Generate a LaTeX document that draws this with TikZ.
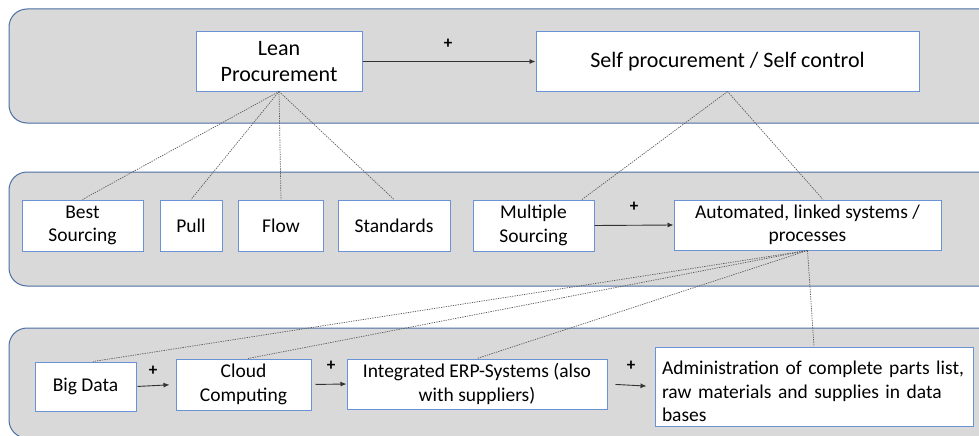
\documentclass[tikz,border=0pt]{standalone}
\usepackage{fontspec}
\setmainfont{Carlito}
\usetikzlibrary{arrows.meta}
\definecolor{bandfill}{HTML}{D9D9D9}
\definecolor{bandline}{HTML}{4D6FA3}
\definecolor{boxline}{HTML}{6A92D4}
\definecolor{linkgray}{HTML}{5A5A5A}
\begin{document}
\begin{tikzpicture}[x=1pt,y=-1pt,
  band/.style={fill=bandfill,draw=bandline,line width=1pt,rounded corners=18pt},
  box/.style={draw=boxline,fill=white,line width=1pt,inner sep=2pt,align=center,
    font=\fontsize{19.5}{23.5}\selectfont},
  bigbox/.style={box,font=\fontsize{22}{26}\selectfont},
  plus/.style={font=\fontsize{17}{17}\selectfont\bfseries,inner sep=0pt},
  flow/.style={draw=black!80,line width=0.9pt,-{Latex[length=6pt,width=5pt]}},
  link/.style={draw=linkgray,line width=0.7pt,dash pattern=on 1.3pt off 1.1pt}]
\useasboundingbox (0,0) rectangle (979,436);
\begin{scope}
\clip (0,0) rectangle (979,436);
% three layers
\path[band] (9,9) rectangle (1010,123);
\path[band] (9,172) rectangle (1010,286);
\path[band] (9,328) rectangle (1010,438);
\end{scope}

% top layer
\node[bigbox,minimum width=166pt,minimum height=59pt] (lean) at (279,61.5) {Lean\\Procurement};
\node[bigbox,minimum width=383pt,minimum height=59pt] (self) at (727.5,61.5) {Self procurement / Self control};

% middle layer
\node[box,minimum width=121pt,minimum height=51pt] (bs) at (82.5,225.5) {Best\\Sourcing};
\node[box,minimum width=62pt,minimum height=51pt] (pull) at (191,225.5) {Pull};
\node[box,minimum width=85pt,minimum height=51pt] (flowbox) at (281,225.5) {Flow};
\node[box,minimum width=112pt,minimum height=51pt] (std) at (394,225.5) {Standards};
\node[box,minimum width=121pt,minimum height=51pt] (ms) at (533.5,225.5) {Multiple\\Sourcing};
\node[box,minimum width=267pt,minimum height=50pt] (auto) at (807.5,225) {Automated, linked systems /\\processes};

% bottom layer
\node[box,minimum width=101pt,minimum height=49pt] (bd) at (85.5,386.5) {Big Data};
\node[box,minimum width=135pt,minimum height=51pt] (cc) at (243.5,384.5) {Cloud\\Computing};
\node[box,minimum width=260pt,minimum height=50pt] (erp) at (477,384) {Integrated ERP-Systems (also\\with suppliers)};
\node[box,minimum width=318pt,minimum height=79pt] (adm) at (814,386.5) {};
\node[font=\fontsize{19.5}{23.5}\selectfont,text width=304pt,align=left,inner sep=0pt]
  (admtext) at ([yshift=-5pt]adm.center)
  {Administration of complete parts list,\\raw materials and supplies in data\\bases};

% positive influences
\draw[flow] (lean.east) -- (self.west);
\node[plus] (p1) at (448,44) {+};
\draw[flow] (ms.east) -- (auto.west);
\node[plus] (p2) at (634,207) {+};
\draw[flow,shorten <=1pt,shorten >=6pt] (bd.east) -- (cc.west);
\node[plus] (p3) at (153,371) {+};
\draw[flow,shorten <=4pt] (cc.east) -- (erp.west);
\node[plus] (p4) at (331,366) {+};
\draw[flow,shorten <=8pt,shorten >=8pt] (erp.east) -- (adm.west);
\node[plus] (p5) at (631,366) {+};

% decomposition links
\draw[link] (lean.south) -- (bs.north);
\draw[link] (lean.south) -- (pull.north);
\draw[link] (lean.south) -- (flowbox.north);
\draw[link] (lean.south) -- (std.north);
\draw[link] (self.south) -- ([xshift=48.5pt]ms.north);
\draw[link] (self.south) -- ([xshift=15.5pt]auto.north);
\draw[link] (auto.south) -- ([xshift=7.5pt]bd.north);
\draw[link] (auto.south) -- ([xshift=4.5pt]cc.north);
\draw[link] (auto.south) -- (erp.north);
\draw[link] (auto.south) -- (adm.north);
\end{tikzpicture}
\end{document}
